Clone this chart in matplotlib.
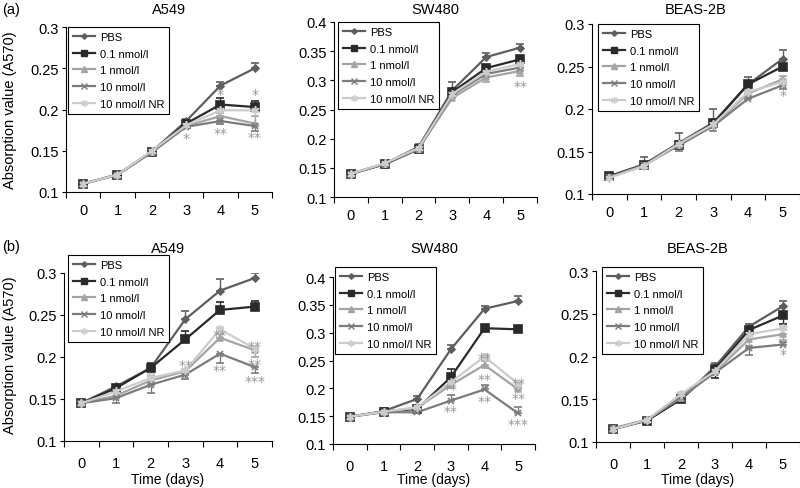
import matplotlib.pyplot as plt
from matplotlib.lines import Line2D
import numpy as np

plt.rcParams['font.family'] = ['Liberation Sans', 'DejaVu Sans']

# Data
days = [0, 1, 2, 3, 4, 5]
series = ['PBS', '0.1 nmol/l', '1 nmol/l', '10 nmol/l', '10 nmol/l NR']

# (a) A549
a_a549 = [[0.110, 0.121, 0.149, 0.186, 0.229, 0.250],
          [0.110, 0.121, 0.149, 0.183, 0.206, 0.203],
          [0.110, 0.121, 0.149, 0.180, 0.192, 0.183],
          [0.110, 0.121, 0.148, 0.179, 0.186, 0.180],
          [0.110, 0.121, 0.150, 0.181, 0.199, 0.199]]
a_a549_err = [[0.002, 0.002, 0.002, 0.002, 0.004, 0.006],
              [0.002, 0.002, 0.002, 0.002, 0.008, 0.007],
              [0.001, 0.001, 0.002, 0.002, 0.004, 0.009],
              [0.001, 0.001, 0.002, 0.002, -0.004, -0.006],
              [0.001, 0.001, 0.002, 0.002, 0.003, 0.003]]
a_a549_stars = [(3, 0.166, '*'), (4, 0.219, '*'), (4, 0.172, '**'),
                (5, 0.219, '*'), (5, 0.167, '**')]

# (a) SW480
a_sw480 = [[0.140, 0.157, 0.186, 0.283, 0.340, 0.356],
           [0.140, 0.156, 0.182, 0.280, 0.321, 0.336],
           [0.140, 0.157, 0.183, 0.270, 0.305, 0.316],
           [0.139, 0.157, 0.182, 0.275, 0.311, 0.322],
           [0.140, 0.158, 0.184, 0.277, 0.315, 0.328]]
a_sw480_err = [[0.002, 0.003, 0.005, 0.015, 0.007, 0.006],
               [0.002, 0.002, 0.003, 0.004, 0.006, 0.003],
               [0.001, 0.002, 0.003, 0.003, -0.007, -0.008],
               [0.001, 0.002, 0.003, 0.003, 0.004, 0.004],
               [0.001, 0.002, 0.003, 0.003, 0.003, 0.003]]
a_sw480_stars = [(5, 0.291, '**')]

# (a) BEAS-2B
a_beas = [[0.121, 0.135, 0.160, 0.184, 0.229, 0.259],
          [0.121, 0.134, 0.158, 0.183, 0.229, 0.250],
          [0.120, 0.133, 0.158, 0.181, 0.218, 0.235],
          [0.120, 0.134, 0.157, 0.180, 0.212, 0.228],
          [0.119, 0.133, 0.159, 0.182, 0.220, 0.232]]
a_beas_err = [[0.003, 0.008, 0.012, 0.016, 0.009, 0.010],
              [0.002, 0.003, 0.003, 0.003, 0.004, 0.003],
              [0.001, 0.002, 0.003, 0.003, 0.003, 0.004],
              [0.001, -0.004, -0.006, -0.006, 0.003, -0.004],
              [0.001, 0.002, 0.003, 0.003, 0.003, 0.003]]
a_beas_stars = [(5, 0.216, '*')]

# (b) A549
b_a549 = [[0.145, 0.165, 0.187, 0.245, 0.279, 0.294],
          [0.145, 0.163, 0.187, 0.221, 0.256, 0.260],
          [0.145, 0.154, 0.172, 0.183, 0.223, 0.208],
          [0.145, 0.151, 0.167, 0.179, 0.204, 0.188],
          [0.145, 0.159, 0.175, 0.184, 0.233, 0.210]]
b_a549_err = [[0.002, 0.002, 0.005, 0.010, 0.014, 0.006],
              [0.002, 0.002, 0.006, 0.010, 0.010, 0.007],
              [0.001, 0.003, 0.005, 0.003, 0.004, -0.008],
              [0.001, -0.006, -0.010, -0.005, -0.011, -0.007],
              [0.001, 0.003, 0.005, 0.002, 0.003, 0.003]]
b_a549_stars = [(3, 0.190, '**'), (4, 0.226, '**'), (4, 0.184, '**'),
                (5, 0.213, '**'), (5, 0.192, '**'), (5, 0.172, '***')]

# (b) SW480
b_sw480 = [[0.149, 0.159, 0.181, 0.270, 0.343, 0.357],
           [0.149, 0.158, 0.163, 0.220, 0.308, 0.306],
           [0.149, 0.158, 0.165, 0.206, 0.242, 0.198],
           [0.149, 0.157, 0.157, 0.178, 0.198, 0.155],
           [0.149, 0.158, 0.166, 0.211, 0.257, 0.208]]
b_sw480_err = [[0.002, 0.005, 0.006, 0.007, 0.005, 0.008],
               [0.002, 0.004, 0.004, 0.014, 0.006, 0.006],
               [0.001, 0.003, 0.003, 0.003, 0.008, 0.004],
               [0.001, 0.002, 0.002, 0.010, 0.008, 0.011],
               [0.001, 0.002, 0.003, 0.003, 0.004, 0.004]]
b_sw480_stars = [(3, 0.198, '**'), (3, 0.159, '**'), (4, 0.255, '**'),
                 (4, 0.216, '**'), (4, 0.178, '**'), (5, 0.210, '**'),
                 (5, 0.183, '**'), (5, 0.136, '***')]

# (b) BEAS-2B
b_beas = [[0.115, 0.126, 0.150, 0.188, 0.235, 0.259],
          [0.115, 0.125, 0.150, 0.185, 0.231, 0.248],
          [0.115, 0.126, 0.152, 0.182, 0.220, 0.226],
          [0.116, 0.126, 0.153, 0.181, 0.210, 0.214],
          [0.115, 0.126, 0.156, 0.183, 0.226, 0.233]]
b_beas_err = [[0.002, 0.002, 0.003, 0.004, 0.003, 0.006],
              [0.002, 0.002, 0.003, -0.010, 0.003, -0.010],
              [0.001, 0.002, -0.004, 0.003, -0.008, -0.007],
              [0.001, 0.002, 0.003, 0.003, -0.008, 0.003],
              [0.001, 0.002, 0.003, 0.003, 0.003, 0.003]]
b_beas_stars = [(5, 0.203, '*')]

# styles for the five treatments
colours = ['#5e5e5e', '#2a2a2a', '#a4a4a4', '#7c7c7c', '#cccccc']
markers = ['D', 's', '^', 'x', (6, 2, 0)]
msizes = [3.5, 5.5, 5, 5, 6]

W, H = 800, 489
fig = plt.figure(figsize=(8, 4.89), dpi=100)


def px_axes(left, right, top, bottom):
    return fig.add_axes([left / W, 1 - bottom / H,
                         (right - left) / W, (bottom - top) / H])


panels = [
    # values, errors, stars, title, ylim, yticks, axes px box, legend px
    (a_a549, a_a549_err, a_a549_stars, 'A549', (0.1, 0.3),
     [0.1, 0.15, 0.2, 0.25, 0.3], (66, 272, 28, 193), (68, 28)),
    (a_sw480, a_sw480_err, a_sw480_stars, 'SW480', (0.1, 0.4),
     [0.1, 0.15, 0.2, 0.25, 0.3, 0.35, 0.4], (334, 537, 23, 198), (338, 23)),
    (a_beas, a_beas_err, a_beas_stars, 'BEAS-2B', (0.1, 0.3),
     [0.1, 0.15, 0.2, 0.25, 0.3], (592, 800, 25, 195), (598, 25)),
    (b_a549, b_a549_err, b_a549_stars, 'A549', (0.1, 0.3),
     [0.1, 0.15, 0.2, 0.25, 0.3], (64, 272, 274, 442), (68, 256)),
    (b_sw480, b_sw480_err, b_sw480_stars, 'SW480', (0.1, 0.4),
     [0.1, 0.15, 0.2, 0.25, 0.3, 0.35, 0.4], (333, 535, 278, 445), (335, 268)),
    (b_beas, b_beas_err, b_beas_stars, 'BEAS-2B', (0.1, 0.3),
     [0.1, 0.15, 0.2, 0.25, 0.3], (596, 800, 272, 443), (602, 268)),
]

for i, (vals, errs, stars, title, ylim, yticks, box, leg) in enumerate(panels):
    ax = px_axes(*box)
    for k in range(len(series)):
        e = np.array(errs[k])
        lo = np.clip(-e, 0, None)
        hi = np.clip(e, 0, None)
        ax.errorbar(days, vals[k], yerr=[lo, hi],
                    color=colours[k], marker=markers[k], markersize=msizes[k],
                    markeredgewidth=1.2, linewidth=1.6,
                    elinewidth=1.0, capsize=3, capthick=1.0)

    # significance marks
    for d, y, s in stars:
        ax.text(d, y, s, color='#999999', fontsize=10, family='DejaVu Sans',
                ha='center', va='center')

    ax.set_xlim(-0.5, 5.5)
    ax.set_ylim(*ylim)
    ax.set_xticks(days)
    ax.set_xticklabels([str(d) for d in days])
    ax.set_xticks(np.arange(-0.5, 6, 1), minor=True)
    ax.tick_params(axis='x', which='major', length=0,
                   pad=8 if i < 3 else 10.5, labelsize=10.5)
    ax.tick_params(axis='x', which='minor', length=4, width=0.8)
    ax.set_yticks(yticks)
    ax.set_yticklabels(['{:g}'.format(t) for t in yticks])
    ax.tick_params(axis='y', length=3, width=0.8, pad=2, labelsize=10.5)
    for side in ['top', 'right']:
        ax.spines[side].set_visible(False)
    for side in ['left', 'bottom']:
        ax.spines[side].set_linewidth(0.8)

    # legend handles without the error bars
    handles = [Line2D([], [], color=colours[k], marker=markers[k],
                      markersize=msizes[k] * 0.8, markeredgewidth=1.0,
                      linewidth=1.6) for k in range(len(series))]
    lg = ax.legend(handles, series, loc='upper left',
                   bbox_to_anchor=(leg[0] / W, 1 - leg[1] / H),
                   bbox_transform=fig.transFigure, borderaxespad=0,
                   fontsize=8, frameon=True, fancybox=False,
                   edgecolor='black', framealpha=1, handlelength=2.0,
                   labelspacing=0.6, borderpad=0.45, handletextpad=0.4)
    lg.get_frame().set_linewidth(0.8)

    # title and axis labels
    cx = (box[0] + box[1]) / 2 / W
    ty = 10 if i < 3 else 249
    fig.text(cx, 1 - ty / H, title, ha='center', va='center', fontsize=10.5)
    if i >= 3:
        fig.text(cx, 1 - 480 / H, 'Time (days)', ha='center', va='center',
                 fontsize=10)

fig.text(10 / W, 1 - 110 / H, 'Absorption value (A570)', rotation=90,
         ha='center', va='center', fontsize=10.5)
fig.text(10 / W, 1 - 355 / H, 'Absorption value (A570)', rotation=90,
         ha='center', va='center', fontsize=10.5)
fig.text(2 / W, 1 - 10 / H, '(a)', ha='left', va='center', fontsize=10.5)
fig.text(2 / W, 1 - 247 / H, '(b)', ha='left', va='center', fontsize=10.5)

fig.savefig('out.png', dpi=100)
